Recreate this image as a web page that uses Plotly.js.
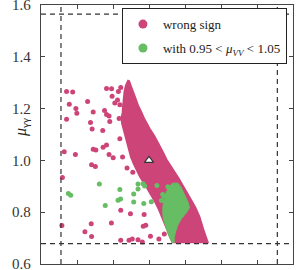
<!DOCTYPE html>
<html>
<head>
<meta charset="utf-8">
<script src="https://cdn.plot.ly/plotly-3.0.1.min.js"></script>
<style>html,body{margin:0;padding:0;background:#fff;}#chart{width:306px;height:270px;}</style>
</head>
<body>
<div id="chart"></div>
<script>
// Dense "wrong sign" region (outline of the filled band)
var bandX = [0.885,0.871,0.863,0.857,0.854,0.852,0.846,0.849,0.860,0.871,0.885,0.899,0.915,0.932,0.948,0.976,1.004,1.032,1.054,1.070,1.087,1.104,1.120,1.129,
             1.328,1.320,1.303,1.281,1.259,1.234,1.203,1.170,1.148,1.123,1.098,1.079,1.059,1.032,1.004,0.976,0.957,0.940,0.924,0.910,0.899,0.890];
var bandY = [1.311,1.290,1.267,1.236,1.205,1.182,1.166,1.143,1.112,1.081,1.046,1.012,0.985,0.961,0.938,0.907,0.876,0.841,0.810,0.783,0.752,0.725,0.698,0.683,
             0.683,0.698,0.733,0.783,0.818,0.849,0.888,0.926,0.950,0.977,1.004,1.031,1.058,1.093,1.124,1.159,1.189,1.213,1.244,1.267,1.290,1.309];
// Dense region with 0.95 < mu_VV < 1.05
var greenRegX = [1.126,1.159,1.176,1.198,1.217,1.225,1.209,1.181,1.159,1.148,1.140,1.140,1.129,1.109,1.093,1.079,1.076,1.081,1.093,1.109];
var greenRegY = [0.911,0.913,0.899,0.868,0.838,0.818,0.799,0.776,0.749,0.725,0.702,0.683,0.683,0.710,0.741,0.776,0.810,0.845,0.872,0.896];
// Scattered "wrong sign" points
var pinkX = [0.542,0.576,0.557,0.594,0.599,0.542,0.659,0.690,0.675,0.684,0.764,0.792,0.843,0.830,0.795,0.825,0.810,0.838,0.753,0.764,0.778,0.782,0.834,0.743,0.838,0.764,0.745,
             0.529,0.591,0.690,0.705,0.778,0.801,0.853,0.681,0.702,0.878,0.910,0.519,0.843,0.897,0.791,0.973,0.982,0.968,1.008,0.843,0.889,0.907,0.939,0.963,1.055,1.085,0.516,0.679,0.644,0.681];
var pinkY = [1.266,1.264,1.217,1.200,1.182,1.159,1.227,1.187,1.146,1.121,1.278,1.277,1.281,1.266,1.248,1.233,1.222,1.215,1.193,1.177,1.171,1.150,1.162,1.115,1.084,1.059,1.051,
             1.033,1.023,1.043,1.040,1.023,1.010,1.013,0.983,0.976,0.971,0.954,0.934,0.808,0.794,0.758,0.791,0.750,0.746,0.707,0.692,0.692,0.697,0.694,0.685,0.697,0.716,0.749,0.755,0.725,0.706];
// Scattered points with 0.95 < mu_VV < 1.05
var greenX = [0.552,0.565,0.724,0.757,0.838,0.828,0.842,0.915,0.915,0.939,0.939,0.967,0.976,0.971,1.013,1.044,1.076,1.083,1.069,1.105];
var greenY = [0.872,0.865,0.909,0.826,0.888,0.846,0.851,0.870,0.839,0.909,0.890,0.910,0.901,0.834,0.840,0.903,0.868,0.862,0.845,0.898];
// SM point
var smX = [1.0];
var smY = [1.0];
// Reference (dashed) lines
var vLines = [0.511, 1.713];
var hLines = [0.679, 1.565];
var legendNames = ['wrong sign', 'with 0.95 &lt; <i>μ</i><sub><i>VV</i></sub> &lt; 1.05'];
var yTitle = '<i>μ</i><sub>γγ</sub>';

var PINK = '#cd4479', GREEN = '#66bd63';
var serif = 'Liberation Serif';

var traces = [
  {x: bandX, y: bandY, type: 'scatter', mode: 'lines', fill: 'toself', fillcolor: PINK,
   line: {color: PINK, width: 1.5}, showlegend: false, hoverinfo: 'skip'},
  {x: pinkX, y: pinkY, type: 'scatter', mode: 'markers', marker: {color: PINK, size: 5}, showlegend: false},
  {x: greenRegX, y: greenRegY, type: 'scatter', mode: 'lines', fill: 'toself', fillcolor: GREEN,
   line: {color: GREEN, width: 1}, showlegend: false, hoverinfo: 'skip'},
  {x: greenX, y: greenY, type: 'scatter', mode: 'markers', marker: {color: GREEN, size: 5}, showlegend: false},
  {x: smX, y: smY, type: 'scatter', mode: 'markers',
   marker: {symbol: 'triangle-up', size: 8, color: '#ffffff', line: {color: '#333', width: 1.2}}, showlegend: false},
  {x: [null], y: [null], type: 'scatter', mode: 'markers', name: legendNames[0], legendgroup: 'a',
   marker: {color: PINK, size: 9}},
  {x: [null], y: [null], type: 'scatter', mode: 'markers', name: legendNames[1], legendgroup: 'b',
   marker: {color: GREEN, size: 9}}
];

var shapes = [];
vLines.forEach(function(v){
  shapes.push({type: 'line', xref: 'x', yref: 'paper', x0: v, x1: v, y0: 0, y1: 1,
    line: {color: '#333', width: 1.2, dash: '5px,4px'}});
});
hLines.forEach(function(v){
  shapes.push({type: 'line', xref: 'paper', yref: 'y', x0: 0, x1: 1, y0: v, y1: v,
    line: {color: '#333', width: 1.2, dash: '5px,4px'}});
});

var axisCommon = {
  showgrid: false, zeroline: false, showline: true, mirror: 'ticks', automargin: false,
  linecolor: '#444', linewidth: 1.3, ticks: 'inside', ticklen: 4, tickwidth: 1, tickcolor: '#444',
  tickfont: {family: serif, size: 15, color: '#333'}, tickformat: '.1f', dtick: 0.2,
  ticklabeloverflow: 'allow'
};

var layout = {
  width: 306, height: 270,
  margin: {l: 41, r: 13, t: 5, b: 6, autoexpand: false},
  font: {family: serif},
  paper_bgcolor: '#fff', plot_bgcolor: '#fff',
  xaxis: Object.assign({}, axisCommon, {range: [0.4, 1.8], tick0: 0.4, ticklabelstandoff: 4}),
  yaxis: Object.assign({}, axisCommon, {range: [0.6, 1.6], tick0: 0.6, ticklabelstandoff: 6}),
  shapes: shapes,
  showlegend: true,
  legend: {x: 0.976, y: 0.988, xanchor: 'right', yanchor: 'top', bgcolor: '#fff',
           bordercolor: '#222', borderwidth: 1, font: {family: serif, size: 13, color: '#222'},
           itemwidth: 30, traceorder: 'grouped', tracegroupgap: 4},
  annotations: [{text: yTitle, xref: 'paper', yref: 'paper', x: -0.125, y: 0.525, showarrow: false,
                 textangle: -90, font: {family: serif, size: 16, color: '#222'}}]
};

Plotly.newPlot('chart', traces, layout, {displayModeBar: false, staticPlot: true});
</script>
</body>
</html>
